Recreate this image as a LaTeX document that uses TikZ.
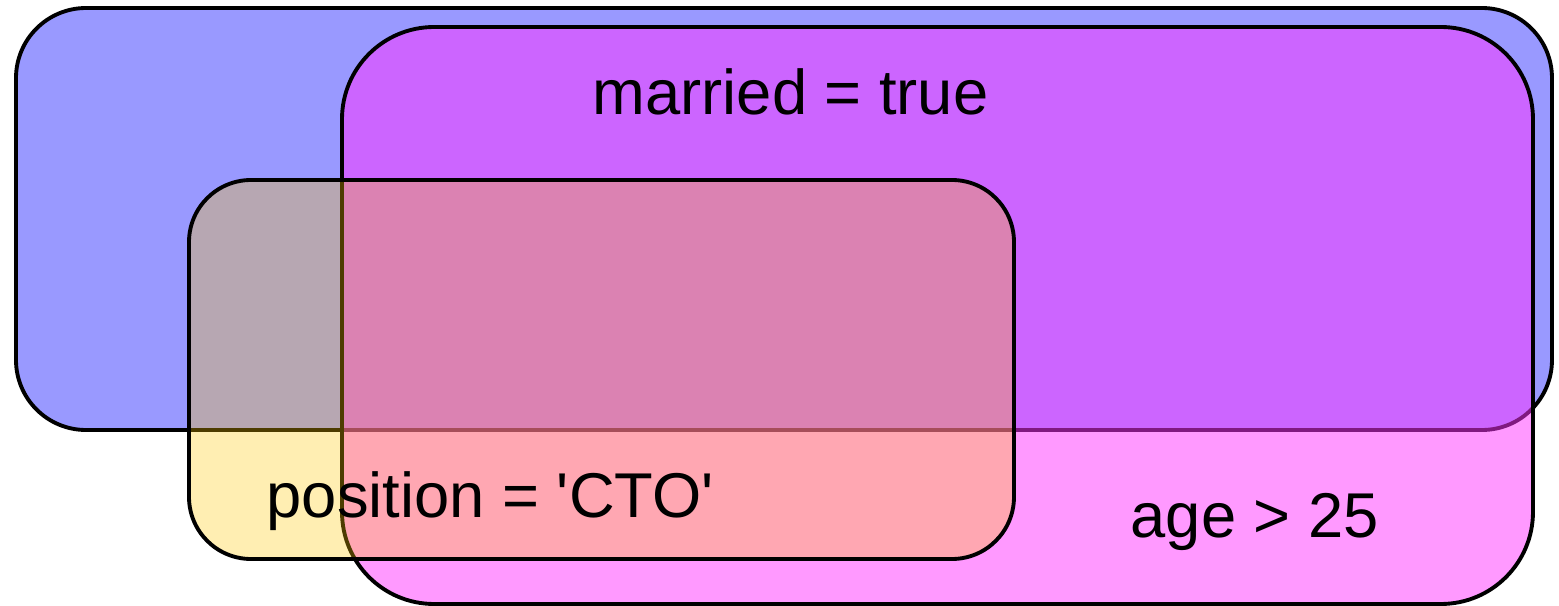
\documentclass[tikz,border=0pt]{standalone}
\usepackage{fontspec}
\setmainfont{Liberation Sans}
\usepackage{tikz}
\usetikzlibrary{positioning}
\usepackage{xcolor}
\definecolor{setblue}{HTML}{9999FF}
\definecolor{setpink}{HTML}{FF33FF}
\definecolor{setyellow}{HTML}{FFC800}

\begin{document}
\begin{tikzpicture}[
    x=0.01cm, y=-0.01cm,
    set/.style={draw=black, line width=1.1pt},
    lbl/.style={inner sep=0pt, anchor=base west, font=\fontsize{18}{21}\selectfont}
]
\useasboundingbox (0,0) rectangle (1559,606);

% Sets
\draw[set, fill=setblue, rounded corners=0.7cm] (16,8) rectangle (1552,430);
\draw[set, fill=setpink, fill opacity=0.5, rounded corners=0.92cm] (342,27) rectangle (1533,604);
\draw[set, fill=setyellow, fill opacity=0.3, rounded corners=0.62cm] (189,180) rectangle (1014,559);

% Labels
\node[lbl] (married) at (592,114) {married = true};
\node[lbl] (position) at (266,517) {position = \textquotesingle CTO\textquotesingle};
\node[lbl] (age) at (1130,537) {age > 25};

\end{tikzpicture}
\end{document}
